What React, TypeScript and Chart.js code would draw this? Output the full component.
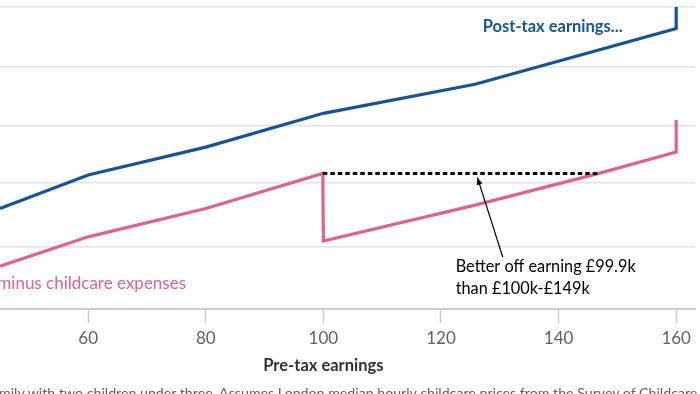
import React, { useEffect, useRef } from "react";
import { Chart, registerables } from "chart.js";

Chart.register(...registerables);

// Pre-tax earnings (£k) and resulting incomes (£k)
const postTaxX = [45, 60, 80, 100, 125.8, 160, 160];
const postTaxY = [33.3, 44.4, 53.6, 64.8, 74.4, 92.9, 100];
const afterChildcareX = [45, 60, 80, 99.9, 100, 125.8, 147, 160, 160];
const afterChildcareY = [14.2, 23.9, 33.3, 44.9, 22.5, 34.4, 45.0, 52.0, 62.6];
const gapX = [99.9, 147];
const gapY = [44.9, 44.9];
const xTickValues = [60, 80, 100, 120, 140, 160];
const yGridValues = [0, 20.5, 41.7, 60.6, 80.1, 100];

const BLUE = "#14549a";
const PINK = "#e3628c";
const FONT = "Lato";

const annotationPlugin = {
  id: "annotations",
  afterDatasetsDraw(chart: any) {
    const { ctx } = chart;
    const x = chart.scales.x;
    const y = chart.scales.y;
    ctx.save();
    // arrow
    const x0 = x.getPixelForValue(130.5);
    const y0 = y.getPixelForValue(17.2);
    const x1 = x.getPixelForValue(126.2);
    const y1 = y.getPixelForValue(43.5);
    ctx.strokeStyle = "#000";
    ctx.fillStyle = "#000";
    ctx.lineWidth = 1.2;
    ctx.beginPath();
    ctx.moveTo(x0, y0);
    ctx.lineTo(x1, y1);
    ctx.stroke();
    const ang = Math.atan2(y1 - y0, x1 - x0);
    const L = 7;
    const W = 3;
    ctx.beginPath();
    ctx.moveTo(x1, y1);
    ctx.lineTo(
      x1 - L * Math.cos(ang) + W * Math.sin(ang),
      y1 - L * Math.sin(ang) - W * Math.cos(ang)
    );
    ctx.lineTo(
      x1 - L * Math.cos(ang) - W * Math.sin(ang),
      y1 - L * Math.sin(ang) + W * Math.cos(ang)
    );
    ctx.closePath();
    ctx.fill();

    ctx.textBaseline = "middle";
    ctx.textAlign = "left";
    ctx.font = `bold 16.5px ${FONT}`;
    ctx.fillStyle = BLUE;
    ctx.fillText("Post-tax earnings...", x.getPixelForValue(127.1), y.getPixelForValue(93.4));
    ctx.fillStyle = PINK;
    ctx.font = `17px ${FONT}`;
    ctx.fillText("...minus childcare expenses", x.getPixelForValue(42.5), y.getPixelForValue(8.6));
    ctx.fillStyle = "#000";
    ctx.font = `16.3px ${FONT}`;
    ctx.fillText("Better off earning £99.9k", x.getPixelForValue(122.5), y.getPixelForValue(14.0));
    ctx.fillText("than £100k-£149k", x.getPixelForValue(122.5), y.getPixelForValue(6.7));

    // axis title, centred under the 100 tick as in the original layout
    ctx.textAlign = "center";
    ctx.fillStyle = "#33302e";
    ctx.font = `bold 16.5px ${FONT}`;
    ctx.fillText("Pre-tax earnings", x.getPixelForValue(100), 366);
    ctx.restore();
  },
};

export default function App() {
  const ref = useRef<HTMLCanvasElement | null>(null);
  useEffect(() => {
    document.body.style.margin = "0";
    const canvas = ref.current!;
    const toPts = (xs: number[], ys: number[]) => xs.map((v, i) => ({ x: v, y: ys[i] }));
    const chart = new Chart(canvas, {
      type: "line",
      data: {
        datasets: [
          {
            data: toPts(gapX, gapY),
            borderColor: "#000",
            borderWidth: 3,
            borderDash: [4.5, 3],
            pointRadius: 0,
            tension: 0,
          },
          {
            data: toPts(postTaxX, postTaxY),
            borderColor: BLUE,
            borderWidth: 3.2,
            pointRadius: 0,
            tension: 0,
          },
          {
            data: toPts(afterChildcareX, afterChildcareY),
            borderColor: PINK,
            borderWidth: 3.2,
            pointRadius: 0,
            tension: 0,
          },
        ],
      },
      options: {
        responsive: false,
        animation: false,
        layout: { padding: { left: 0, right: 5, top: 7, bottom: 0 } },
        plugins: { legend: { display: false }, tooltip: { enabled: false } },
        scales: {
          x: {
            type: "linear",
            min: 45,
            max: 163.2,
            afterBuildTicks: (s: any) => {
              s.ticks = xTickValues.map((v) => ({ value: v }));
            },
            afterFit: (s: any) => {
              s.height = 85;
            },
            grid: {
              drawOnChartArea: false,
              drawTicks: true,
              tickLength: 14,
              tickColor: "#cccccc",
              tickWidth: 1.5,
            },
            border: { display: true, color: "#cccccc", width: 2 },
            ticks: {
              padding: 5,
              color: "#66605c",
              font: { family: FONT, size: 17 },
              maxRotation: 0,
              callback: (v: any) => String(v),
            },
            title: { display: false },
          },
          y: {
            type: "linear",
            min: 0,
            max: 100,
            afterBuildTicks: (s: any) => {
              s.ticks = yGridValues.map((v) => ({ value: v }));
            },
            afterFit: (s: any) => {
              s.width = 0;
            },
            ticks: { display: false },
            grid: { color: "#e4e4e4", lineWidth: 1.5, drawTicks: false },
            border: { display: false },
          },
        },
      },
      plugins: [annotationPlugin],
    } as any);
    return () => chart.destroy();
  }, []);
  return (
    <div style={{ position: "relative", width: 700, height: 394, overflow: "hidden", background: "#fff" }}>
      <canvas ref={ref} width={700} height={394} style={{ display: "block", width: 700, height: 394 }} />
      <div
        style={{
          position: "absolute",
          left: -13,
          top: 384,
          fontFamily: FONT,
          fontSize: 14.2,
          color: "#66605c",
          whiteSpace: "nowrap",
        }}
      >
        family with two children under three. Assumes London median hourly childcare prices from the Survey of Childcare and Early Years Providers
      </div>
    </div>
  );
}
